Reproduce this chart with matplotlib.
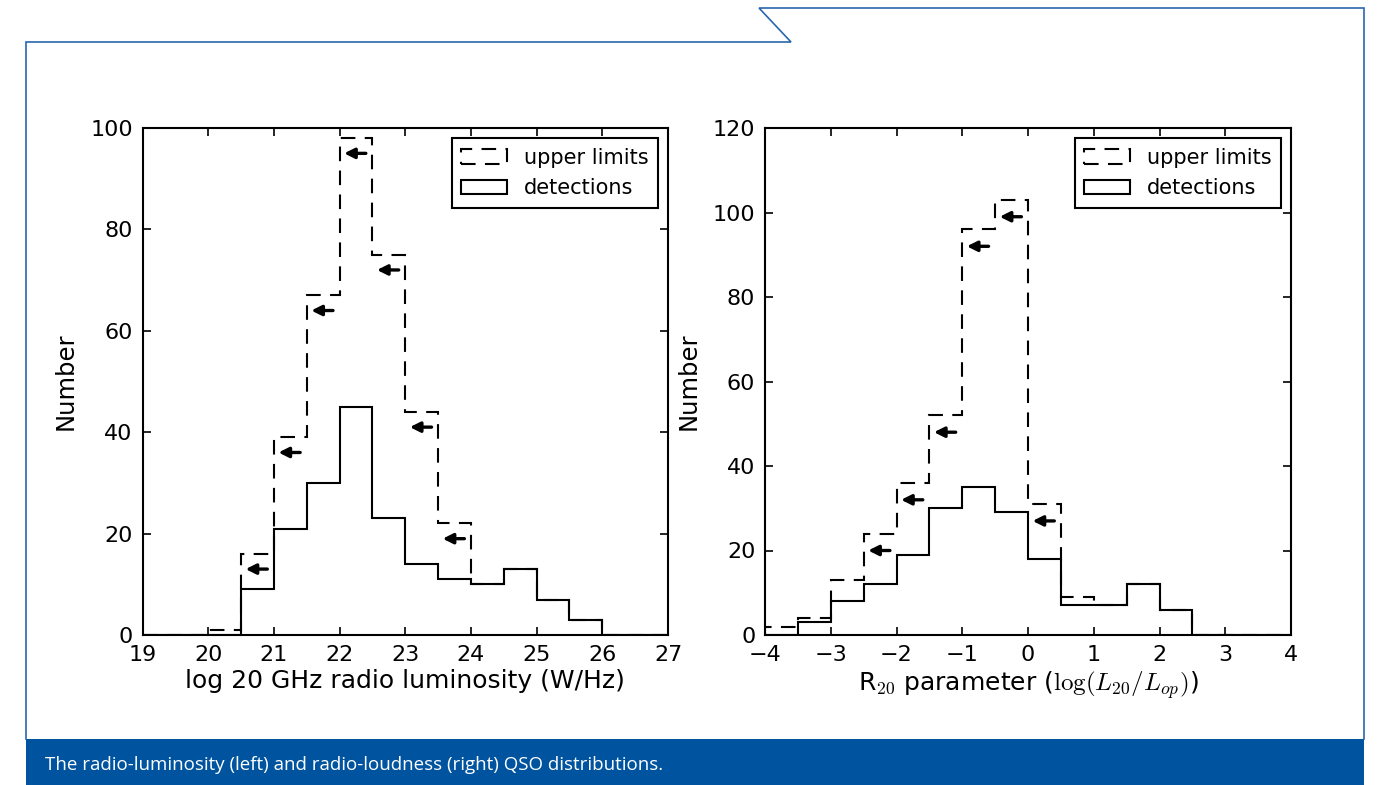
import matplotlib
matplotlib.use("Agg")
import matplotlib.pyplot as plt
import numpy as np
from matplotlib.patches import Patch, Rectangle

plt.rcParams["font.family"] = ["DejaVu Sans"]
plt.rcParams["mathtext.fontset"] = "cm"

# left panel: log 20 GHz radio luminosity, bins of 0.5 dex
lum_edges = np.arange(19.0, 27.01, 0.5)
lum_det = [0, 0, 0, 9, 21, 30, 45, 23, 14, 11, 10, 13, 7, 3, 0, 0]
lum_total = [0, 0, 1, 16, 39, 67, 98, 75, 44, 22, 10, 13, 7, 3, 0, 0]
lum_arrow_bins = [3, 4, 5, 6, 7, 8, 9]

# right panel: R20 radio-loudness parameter
r20_edges = np.arange(-4.0, 4.01, 0.5)
r20_det = [0, 3, 8, 12, 19, 30, 35, 29, 18, 7, 7, 12, 6, 0, 0, 0]
r20_total = [2, 4, 13, 24, 36, 52, 96, 103, 31, 9, 7, 12, 6, 0, 0, 0]
r20_arrow_bins = [3, 4, 5, 6, 7, 8]

CAPTION = "The radio-luminosity (left) and radio-loudness (right) QSO distributions."
FRAME = "#2a66ae"
BAR = "#00539f"
DASH = (0, (7, 4.5))

W, H = 1379, 785
fig = plt.figure(figsize=(W / 100, H / 100), dpi=100)
fig.patch.set_facecolor("white")

# page frame / caption bar drawn in pixel coordinates
deco = fig.add_axes([0, 0, 1, 1], zorder=-1)
deco.set_xlim(0, W)
deco.set_ylim(H, 0)
deco.axis("off")
deco.plot([26, 26, 791, 759, 1364, 1364], [739, 42, 42, 8, 8, 739],
          color=FRAME, lw=1.2, solid_joinstyle="miter")
deco.add_patch(Rectangle((26, 739), 1364 - 26, H - 739, color=BAR, lw=0))
deco.text(45, 765, CAPTION, color="white", fontsize=13.5,
          family="Open Sans", va="center", ha="left")


def panel(rect, edges, det, total, arrow_bins, ymax, yoff, xlabel):
    ax = fig.add_axes(rect)
    ax.stairs(total, edges, color="black", lw=1.5, linestyle=DASH, baseline=0)
    ax.stairs(det, edges, color="black", lw=1.5, baseline=0)
    for i in arrow_bins:
        y = total[i] - yoff
        ax.annotate("", xy=(edges[i] + 0.07, y), xytext=(edges[i] + 0.4, y),
                    arrowprops=dict(arrowstyle="-|>", color="black", lw=2.4,
                                    mutation_scale=15, shrinkA=0, shrinkB=0))
    ax.set_xlim(edges[0], edges[-1])
    ax.set_ylim(0, ymax)
    ax.set_xticks(np.arange(edges[0], edges[-1] + 0.01, 1.0))
    ax.set_yticks(np.arange(0, ymax + 1, 20))
    ax.tick_params(direction="in", top=True, right=True, length=6, width=1.2,
                   labelsize=16, pad=7)
    for s in ax.spines.values():
        s.set_linewidth(1.5)
    ax.set_ylabel("Number", fontsize=17.5, labelpad=9)
    ax.set_xlabel(xlabel, fontsize=18, labelpad=3)
    handles = [Patch(fill=False, edgecolor="black", lw=1.5, linestyle=DASH),
               Patch(fill=False, edgecolor="black", lw=1.5)]
    leg = ax.legend(handles, ["upper limits", "detections"], loc="upper right",
                    fontsize=15, fancybox=False, framealpha=1, edgecolor="black",
                    handlelength=2.2, handletextpad=0.8, borderaxespad=0.5,
                    borderpad=0.45, labelspacing=0.5)
    leg.get_frame().set_linewidth(1.5)
    return ax


panel([142.5 / W, 1 - 635 / H, 525.5 / W, 507 / H], lum_edges, lum_det,
      lum_total, lum_arrow_bins, 100, 3, "log 20 GHz radio luminosity (W/Hz)")
panel([765 / W, 1 - 635 / H, 526 / W, 507 / H], r20_edges, r20_det,
      r20_total, r20_arrow_bins, 120, 4,
      r"R$_{20}$ parameter ($\log(L_{20}/L_{op})$)")

fig.savefig("out.png", dpi=100)
